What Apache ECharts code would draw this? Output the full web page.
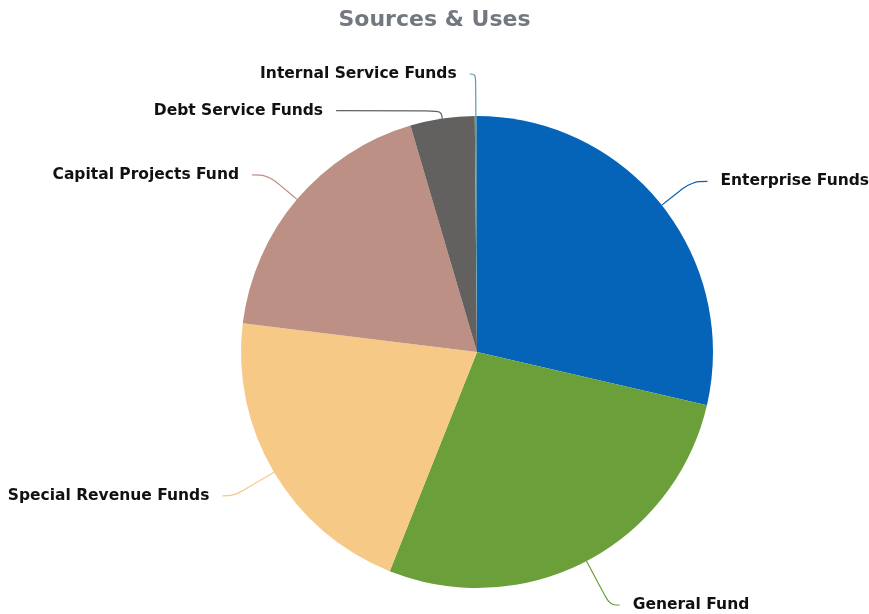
<!DOCTYPE html>
<html><head><meta charset="utf-8">
<script src="https://cdn.jsdelivr.net/npm/echarts@6/dist/echarts.min.js"></script>
<style>html,body{margin:0;padding:0;background:#fff}#c{width:869px;height:614px}</style>
</head><body><div id="c"></div>
<script>
const categories = ["Enterprise Funds","General Fund","Special Revenue Funds","Capital Projects Fund","Debt Service Funds","Internal Service Funds"];
const values = [28.6, 27.4, 20.9, 18.5, 4.4, 0.15];
const colors = ["#0563b8","#6a9f3a","#f7c987","#bc9084","#62615f","#5b9bb0"];

// label-line styling per slice (presentation only)
const lineStyles = [
  {length:38,length2:16},
  {length:50,length2:10},
  {length:46,length2:12},
  {length:38,length2:16},
  {length:8,length2:105},
  {length:42,length2:6}
];

const chart = echarts.init(document.getElementById('c'));
chart.setOption({
  animation:false,
  title:{text:"Sources & Uses",left:'center',top:4,textStyle:{fontFamily:"DejaVu Sans",fontWeight:'bold',fontSize:22,color:'#737880'}},
  series:[{
    type:'pie',
    center:[477,352],
    radius:236,
    startAngle:90,
    clockwise:true,
    avoidLabelOverlap:true,
    data:categories.map((n,i)=>({name:n,value:values[i],itemStyle:{color:colors[i]},labelLine:lineStyles[i]})),
    label:{show:true,position:'outside',fontFamily:"DejaVu Sans",fontWeight:'bold',fontSize:15.5,color:'#111',distanceToLabelLine:13,overflow:'none',width:300},
    labelLine:{show:true,length:38,length2:16,smooth:0.4,lineStyle:{width:1.2}},
    emphasis:{disabled:true}
  }]
});
</script></body></html>
